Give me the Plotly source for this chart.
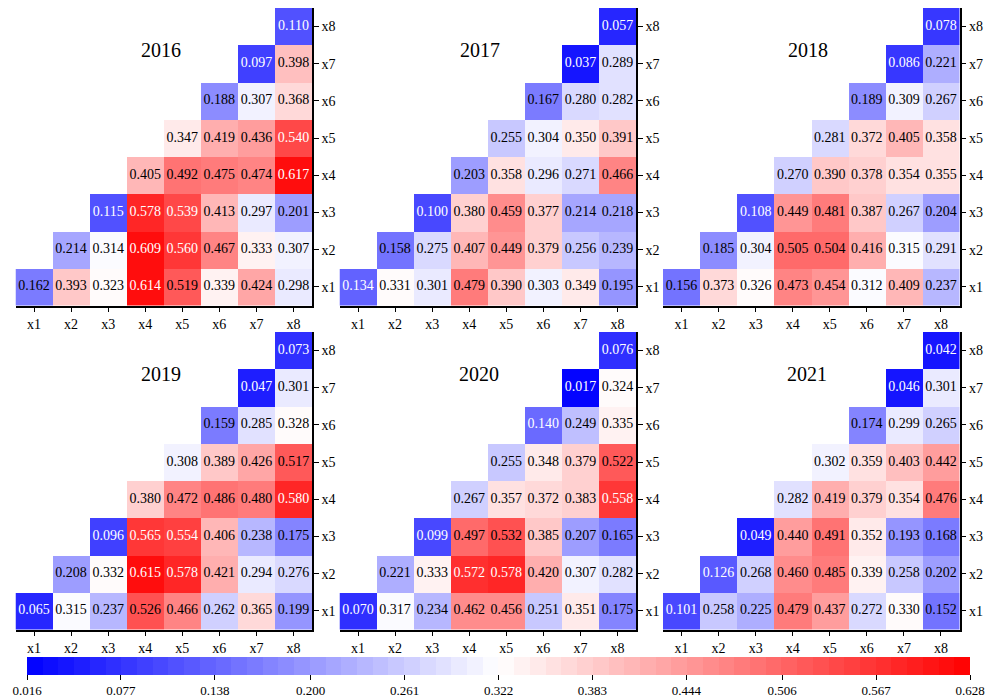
import plotly.graph_objects as go

labels = ["x1", "x2", "x3", "x4", "x5", "x6", "x7", "x8"]
years = ["2016", "2017", "2018", "2019", "2020", "2021"]

# each list: row xi, values for columns xi..x8
v2016 = [
    [0.162, 0.393, 0.323, 0.614, 0.519, 0.339, 0.424, 0.298],
    [0.214, 0.314, 0.609, 0.560, 0.467, 0.333, 0.307],
    [0.115, 0.578, 0.539, 0.413, 0.297, 0.201],
    [0.405, 0.492, 0.475, 0.474, 0.617],
    [0.347, 0.419, 0.436, 0.540],
    [0.188, 0.307, 0.368],
    [0.097, 0.398],
    [0.110],
]
v2017 = [
    [0.134, 0.331, 0.301, 0.479, 0.390, 0.303, 0.349, 0.195],
    [0.158, 0.275, 0.407, 0.449, 0.379, 0.256, 0.239],
    [0.100, 0.380, 0.459, 0.377, 0.214, 0.218],
    [0.203, 0.358, 0.296, 0.271, 0.466],
    [0.255, 0.304, 0.350, 0.391],
    [0.167, 0.280, 0.282],
    [0.037, 0.289],
    [0.057],
]
v2018 = [
    [0.156, 0.373, 0.326, 0.473, 0.454, 0.312, 0.409, 0.237],
    [0.185, 0.304, 0.505, 0.504, 0.416, 0.315, 0.291],
    [0.108, 0.449, 0.481, 0.387, 0.267, 0.204],
    [0.270, 0.390, 0.378, 0.354, 0.355],
    [0.281, 0.372, 0.405, 0.358],
    [0.189, 0.309, 0.267],
    [0.086, 0.221],
    [0.078],
]
v2019 = [
    [0.065, 0.315, 0.237, 0.526, 0.466, 0.262, 0.365, 0.199],
    [0.208, 0.332, 0.615, 0.578, 0.421, 0.294, 0.276],
    [0.096, 0.565, 0.554, 0.406, 0.238, 0.175],
    [0.380, 0.472, 0.486, 0.480, 0.580],
    [0.308, 0.389, 0.426, 0.517],
    [0.159, 0.285, 0.328],
    [0.047, 0.301],
    [0.073],
]
v2020 = [
    [0.070, 0.317, 0.234, 0.462, 0.456, 0.251, 0.351, 0.175],
    [0.221, 0.333, 0.572, 0.578, 0.420, 0.307, 0.282],
    [0.099, 0.497, 0.532, 0.385, 0.207, 0.165],
    [0.267, 0.357, 0.372, 0.383, 0.558],
    [0.255, 0.348, 0.379, 0.522],
    [0.140, 0.249, 0.335],
    [0.017, 0.324],
    [0.076],
]
v2021 = [
    [0.101, 0.258, 0.225, 0.479, 0.437, 0.272, 0.330, 0.152],
    [0.126, 0.268, 0.460, 0.485, 0.339, 0.258, 0.202],
    [0.049, 0.440, 0.491, 0.352, 0.193, 0.168],
    [0.282, 0.419, 0.379, 0.354, 0.476],
    [0.302, 0.359, 0.403, 0.442],
    [0.174, 0.299, 0.265],
    [0.046, 0.301],
    [0.042],
]
cbar_ticks = [0.016, 0.077, 0.138, 0.200, 0.261, 0.322, 0.383, 0.444, 0.506, 0.567, 0.628]

all_vals = [v2016, v2017, v2018, v2019, v2020, v2021]
ZMIN, ZMAX = 0.016, 0.628
FONT = "Liberation Serif"
W, H = 989, 699

# stepped blue-white-red colorscale
def bwr(t):
    if t <= 0.5:
        f = t / 0.5
        return (int(round(255 * f)), int(round(255 * f)), 255)
    f = (t - 0.5) / 0.5
    return (255, int(round(255 * (1 - f))), int(round(255 * (1 - f))))

NSTEP = 60
colorscale = []
for k in range(NSTEP):
    c = bwr((k + 0.5) / NSTEP)
    cs = "rgb(%d,%d,%d)" % c
    colorscale.append([k / NSTEP, cs])
    colorscale.append([(k + 1) / NSTEP, cs])

# panel pixel boxes (left, right, top, bottom)
cols_px = [(15.5, 312.0), (339.5, 636.0), (663.0, 959.5)]
rows_px = [(8.0, 305.5), (332.0, 629.5)]
title_px = [(161, 50), (480, 50), (808, 50), (161, 374), (479, 374), (807, 374)]

fig = go.Figure()
layout = dict(
    width=W, height=H, margin=dict(l=0, r=0, t=0, b=0),
    paper_bgcolor="white", plot_bgcolor="white",
    font=dict(family=FONT, size=13, color="black"),
    showlegend=False,
)
annotations = []

for p, vals in enumerate(all_vals):
    r, c = divmod(p, 3)
    xl, xr = cols_px[c]
    yt, yb = rows_px[r]
    ax = "" if p == 0 else str(p + 1)
    xa, ya = "x" + ax, "y" + ax

    z = [[None] * 8 for _ in range(8)]
    tx, ty, tt, tc = [], [], [], []
    for i, row in enumerate(vals):
        for k, v in enumerate(row):
            j = i + k
            z[i][j] = v
            tx.append(labels[j]); ty.append(labels[i])
            tt.append("%.3f" % v)
            tc.append("white" if (v < 0.145 or v > 0.535) else "black")

    hm = dict(z=z, x=labels, y=labels, zmin=ZMIN, zmax=ZMAX,
              colorscale=colorscale, xaxis=xa, yaxis=ya, hoverongaps=False,
              showscale=(p == 0))
    if p == 0:
        hm["colorbar"] = dict(
            orientation="h", x=27 / W, xanchor="left", len=943 / W, lenmode="fraction",
            y=1 - 657 / H, yanchor="top", thickness=18, outlinewidth=0,
            tickmode="array", tickvals=cbar_ticks, ticktext=["%.3f" % t for t in cbar_ticks],
            ticks="outside", ticklen=5, tickcolor="black", xpad=0, ypad=0,
            tickfont=dict(family=FONT, size=13, color="black"),
        )
    fig.add_trace(go.Heatmap(**hm))
    fig.add_trace(go.Scatter(x=tx, y=ty, text=tt, mode="text", xaxis=xa, yaxis=ya,
                             textfont=dict(family=FONT, size=14, color=tc),
                             hoverinfo="skip"))

    axis_common = dict(
        type="category", categoryorder="array", categoryarray=labels, range=[-0.5, 7.5],
        showline=True, linecolor="black", linewidth=1.5, ticks="outside",
        ticklen=5, tickcolor="black", tickwidth=1.2, showgrid=False, zeroline=False,
        tickfont=dict(family=FONT, size=14, color="black"), fixedrange=True,
    )
    layout["xaxis" + ax] = dict(domain=[xl / W, xr / W], anchor=ya, **axis_common)
    layout["yaxis" + ax] = dict(domain=[1 - yb / H, 1 - yt / H], anchor=xa,
                                side="right", **axis_common)
    tx_, ty_ = title_px[p]
    annotations.append(dict(text=years[p], x=tx_ / W, y=1 - ty_ / H, xref="paper",
                            yref="paper", showarrow=False, xanchor="center",
                            yanchor="middle", font=dict(family=FONT, size=20, color="black")))

layout["annotations"] = annotations
fig.update_layout(**layout)
fig.write_html("out.html", config={"displayModeBar": False},
               post_script="document.body.style.margin='0';document.body.style.overflow='hidden';")
